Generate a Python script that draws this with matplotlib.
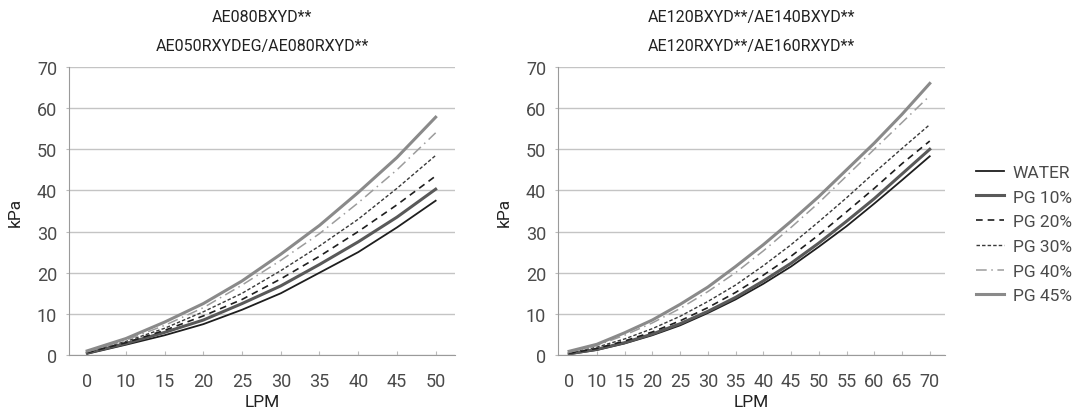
import matplotlib
matplotlib.use("Agg")
import matplotlib.pyplot as plt

plt.rcParams['font.family'] = ['Roboto', 'DejaVu Sans']

# left chart
lpm_left = ['0', '10', '15', '20', '25', '30', '35', '40', '45', '50']
left_water = [0.3, 2.5, 4.8, 7.5, 11.0, 15.0, 20.0, 25.0, 31.0, 37.5]
left_pg10 = [0.5, 2.8, 5.5, 8.5, 12.5, 16.8, 22.0, 27.5, 33.5, 40.3]
left_pg20 = [0.6, 3.0, 6.0, 9.5, 13.5, 18.5, 24.0, 30.0, 36.5, 43.5]
left_pg30 = [0.7, 3.3, 6.5, 10.5, 15.0, 20.5, 26.5, 33.0, 40.5, 48.5]
left_pg40 = [0.8, 3.6, 7.2, 11.5, 17.0, 23.0, 29.5, 37.0, 45.0, 54.0]
left_pg45 = [1.0, 4.0, 8.0, 12.5, 18.0, 24.5, 31.5, 39.5, 48.0, 57.8]

# right chart
lpm_right = ['0', '10', '15', '20', '25', '30', '35', '40', '45', '50', '55', '60', '65', '70']
right_water = [0.2, 1.2, 2.8, 4.8, 7.2, 10.2, 13.5, 17.3, 21.5, 26.3, 31.3, 36.8, 42.5, 48.3]
right_pg10 = [0.3, 1.4, 3.0, 5.1, 7.6, 10.6, 14.0, 18.0, 22.3, 27.2, 32.5, 38.0, 44.0, 50.0]
right_pg20 = [0.4, 1.6, 3.4, 5.6, 8.3, 11.5, 15.2, 19.4, 24.0, 29.2, 34.8, 40.5, 46.5, 52.0]
right_pg30 = [0.5, 1.9, 3.9, 6.4, 9.4, 13.0, 17.0, 21.7, 26.8, 32.4, 38.2, 44.3, 50.2, 56.0]
right_pg40 = [0.7, 2.3, 4.8, 7.8, 11.3, 15.4, 20.0, 25.3, 31.0, 37.0, 43.5, 50.0, 56.5, 63.0]
right_pg45 = [0.9, 2.6, 5.4, 8.5, 12.3, 16.5, 21.5, 26.8, 32.5, 38.5, 45.0, 51.5, 58.5, 66.0]

names = ['WATER', 'PG 10%', 'PG 20%', 'PG 30%', 'PG 40%', 'PG 45%']
styles = [
    dict(color='#1e1e1e', lw=1.3, ls='-'),
    dict(color='#595959', lw=2.2, ls='-'),
    dict(color='#1e1e1e', lw=1.2, ls=(0, (4, 3))),
    dict(color='#3a3a3a', lw=1.0, ls=(0, (2.5, 1.5))),
    dict(color='#9c9c9c', lw=1.1, ls=(0, (7, 3, 1, 3))),
    dict(color='#8a8a8a', lw=2.2, ls='-'),
]

fig = plt.figure(figsize=(10.73, 4.14), dpi=100)
ax1 = fig.add_axes([69 / 1073, 1 - 356 / 414, 386 / 1073, 288 / 414])
ax2 = fig.add_axes([558 / 1073, 1 - 356 / 414, 387 / 1073, 288 / 414])


def draw(ax, cats, series, xlim, titles):
    x = list(range(len(cats)))
    for s, st, nm in zip(series, styles, names):
        ax.plot(x, s, label=nm, **st)
    ax.set_xlim(*xlim)
    ax.set_ylim(0, 70)
    ax.set_yticks(range(0, 71, 10))
    ax.set_xticks(x)
    ax.set_xticklabels(cats)
    ax.grid(axis='y', color='#c4c4c4', lw=1)
    ax.set_axisbelow(True)
    for sp in ['top', 'right']:
        ax.spines[sp].set_visible(False)
    ax.spines['left'].set_color('#9a9a9a')
    ax.spines['bottom'].set_color('#9a9a9a')
    ax.tick_params(axis='x', direction='in', length=3, color='#bbbbbb',
                   pad=12, labelsize=13, labelcolor='#4a4a4a')
    ax.tick_params(axis='y', length=2.5, color='#bbbbbb', pad=6,
                   labelsize=13, labelcolor='#4a4a4a')
    ax.set_xlabel('LPM', fontsize=12.5, color='#222222', labelpad=3)
    ax.set_ylabel('kPa', fontsize=12.5, color='#222222', labelpad=10)
    ax.text(0.5, 1 + 50 / 288, titles[0], transform=ax.transAxes, ha='center',
            va='center', fontsize=11.5, color='#222222')
    ax.text(0.5, 1 + 21 / 288, titles[1], transform=ax.transAxes, ha='center',
            va='center', fontsize=11.5, color='#222222')


draw(ax1, lpm_left, [left_water, left_pg10, left_pg20, left_pg30, left_pg40, left_pg45],
     (-0.47, 9.5), ['AE080BXYD**', 'AE050RXYDEG/AE080RXYD**'])
draw(ax2, lpm_right, [right_water, right_pg10, right_pg20, right_pg30, right_pg40, right_pg45],
     (-0.4, 13.55), ['AE120BXYD**/AE140BXYD**', 'AE120RXYD**/AE160RXYD**'])

leg = ax2.legend(loc='center left', bbox_to_anchor=(1.04, 0.42), frameon=False,
                 fontsize=12.5, handlelength=1.6, handletextpad=0.5, labelspacing=0.55)
for t in leg.get_texts():
    t.set_color('#4a4a4a')

fig.savefig('out.png', dpi=100)
